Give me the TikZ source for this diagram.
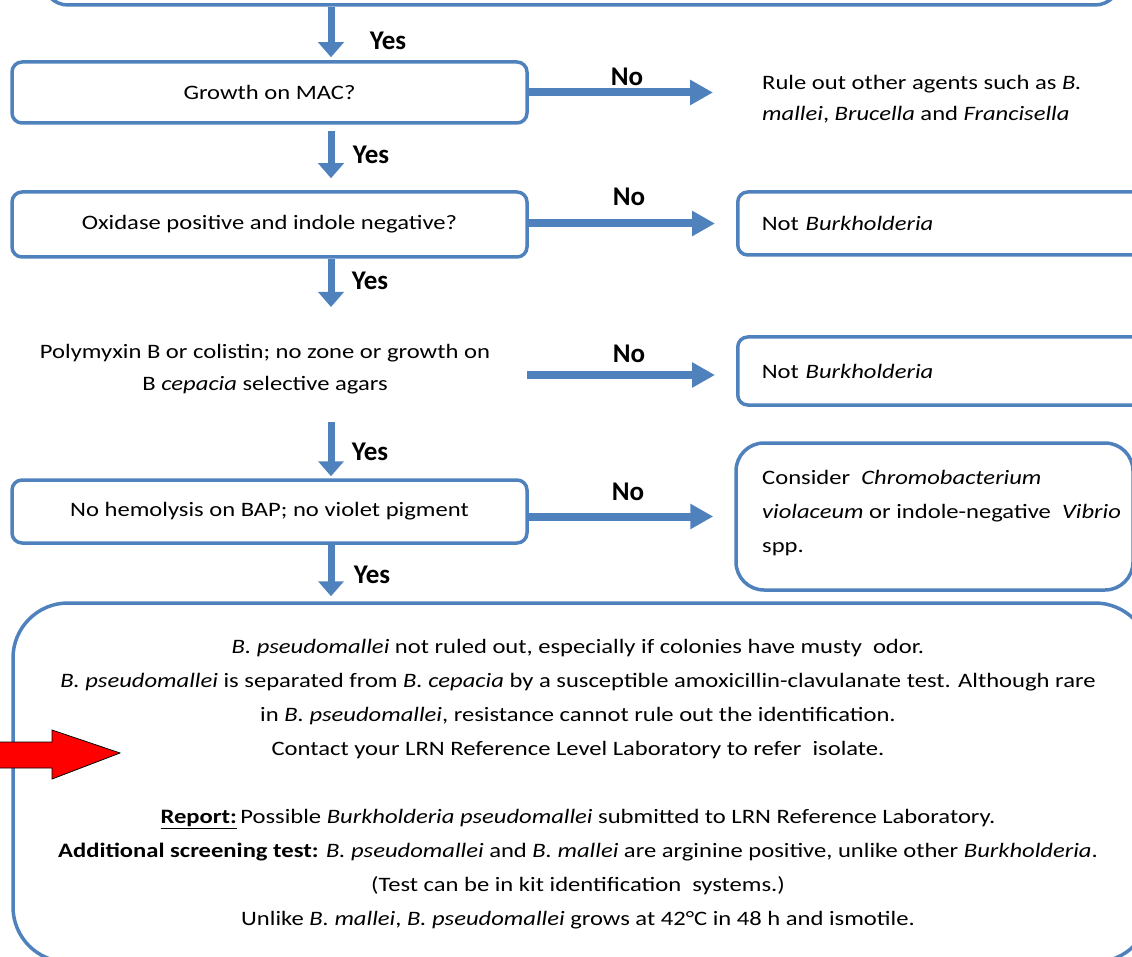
\documentclass[tikz,border=0pt]{standalone}
\usepackage{fontspec}
\setmainfont{Carlito}
\newfontfamily\bodyfam{Carlito}[FakeStretch=1.2]
\usetikzlibrary{arrows.meta}
\definecolor{flowblue}{HTML}{4F81BD}
\definecolor{alertred}{HTML}{FF0000}
\newcommand\bodyfont{\bodyfam\fontsize{20.5}{34}\selectfont}
\newcommand\labelfont{\fontsize{27}{30}\selectfont\bfseries}
\tikzset{
  decision/.style={draw=flowblue, line width=3.5pt, rounded corners=10pt,
    minimum width=515pt, inner sep=0pt, font=\bodyfont, align=center},
  outcome/.style={draw=flowblue, line width=3.5pt, rounded corners=10pt,
    text width=380pt, inner xsep=24pt, inner ysep=0pt, align=left,
    font=\bodyfont, anchor=west},
  plainbox/.style={draw=flowblue, line width=3.5pt},
  bodytext/.style={font=\bodyfont, inner sep=0pt},
  yesarrow/.style={draw=flowblue, line width=7pt,
    -{Triangle[width=25pt,length=15pt]}},
  noarrow/.style={draw=flowblue, line width=8pt,
    -{Triangle[width=24pt,length=23pt]}},
  answer/.style={font=\labelfont, inner sep=0pt},
}
\begin{document}
\begin{tikzpicture}[x=1pt,y=-1pt]
\useasboundingbox (0,0) rectangle (1132,957);
\clip (0,0) rectangle (1132,957);

% decision column
\node[plainbox, rounded corners=25pt, minimum width=1077pt, minimum height=65pt]
  (top) at (581.5,-27.5) {};
\node[decision, minimum height=61pt] (mac) at (269.5,92.5) {Growth on MAC?};
\node[decision, minimum height=65pt] (oxi) at (269.5,224.5)
  {Oxidase positive and indole negative?};
\node[bodytext, align=center, font=\bodyfam\fontsize{20.5}{32}\selectfont]
  (poly) at (265,369)
  {Polymyxin B or colistin; no zone or growth on\\B \textit{cepacia} selective agars};
\node[decision, minimum height=63pt] (hemo) at (269.5,511.5)
  {No hemolysis on BAP; no violet pigment};

% outcomes on the right
\node[bodytext, align=left, anchor=west, font=\bodyfam\fontsize{20.5}{31}\selectfont]
  (ruleout) at (762,99)
  {Rule out other agents such as \textit{B.}\\\textit{mallei}, \textit{Brucella} and \textit{Francisella}};
\node[outcome, minimum height=63pt] (nb1) at (736,223.5) {Not \textit{Burkholderia}};
\node[outcome, minimum height=68pt] (nb2) at (736,371) {Not \textit{Burkholderia}};
\node[plainbox, rounded corners=28pt, minimum width=397pt, minimum height=147pt]
  (cons) at (934.5,516.5) {};
\node[bodytext, align=left, anchor=west] (constext) at (762,513)
  {Consider \ \textit{Chromobacterium}\\\textit{violaceum} or indole-negative \ \textit{Vibrio}\\spp.};

% final result
\node[plainbox, rounded corners=55pt, minimum width=1137pt, minimum height=359pt]
  (result) at (581.5,782.5) {};
\node[bodytext, align=center] (resulttext) at (578,784)
  {\textit{B. pseudomallei} not ruled out, especially if colonies have musty\ \ odor.\\
   \textit{B. pseudomallei} is separated from \textit{B. cepacia} by a susceptible amoxicillin-clavulanate test. Although rare\\
   in \textit{B. pseudomallei}, resistance cannot rule out the identification.\\
   Contact your LRN Reference Level Laboratory to refer\ \ isolate.\\[34pt]
   \underline{\textbf{Report:}}\,Possible \textit{Burkholderia pseudomallei} submitted to LRN Reference Laboratory.\\
   \textbf{Additional screening test:} \textit{B. pseudomallei} and \textit{B. mallei} are arginine positive, unlike other \textit{Burkholderia}.\\
   (Test can be in kit identification\ \ systems.)\\
   Unlike \textit{B. mallei}, \textit{B. pseudomallei} grows at 42°C in 48 h and ismotile.};

% red pointer
\draw[fill=alertred, draw=black, line width=0.8pt, line join=miter]
  (-5,742) -- (52,742) -- (52,730) -- (120,753) -- (52,779) -- (52,768) -- (-5,768) -- cycle;

% yes connectors
\coordinate (ax) at (331,0);
\coordinate (polyin) at (331,307);
\coordinate (polyout) at (331,422);
\coordinate (polyno) at (527,375);
\draw[yesarrow, shorten >=3pt] (ax |- top.south) -- (ax |- mac.north);
\draw[yesarrow, shorten <=6pt, shorten >=12pt] (ax |- mac.south) -- (ax |- oxi.north);
\draw[yesarrow] (ax |- oxi.south) -- (polyin);
\draw[yesarrow, shorten >=2pt] (polyout) -- (ax |- hemo.north);
\draw[yesarrow, shorten >=5pt] (ax |- hemo.south) -- (ax |- result.north);

\node[answer] (y1) at (388,41) {Yes};
\node[answer] (y2) at (371,155) {Yes};
\node[answer] (y3) at (370,281) {Yes};
\node[answer] (y4) at (370,452) {Yes};
\node[answer] (y5) at (372,575) {Yes};

% no connectors
\draw[noarrow, shorten >=49pt] (mac.east) -- (mac.east -| ruleout.west);
\draw[noarrow, shorten >=21pt] (nb1.west -| oxi.east) -- (nb1.west);
\draw[noarrow, shorten >=21pt] (polyno) -- (polyno -| nb2.west);
\draw[noarrow, shorten >=21pt] (cons.west -| hemo.east) -- (cons.west);

\node[answer] (n1) at (627,77) {No};
\node[answer] (n2) at (629,197) {No};
\node[answer] (n3) at (629,354) {No};
\node[answer] (n4) at (628,492) {No};
\end{tikzpicture}
\end{document}
